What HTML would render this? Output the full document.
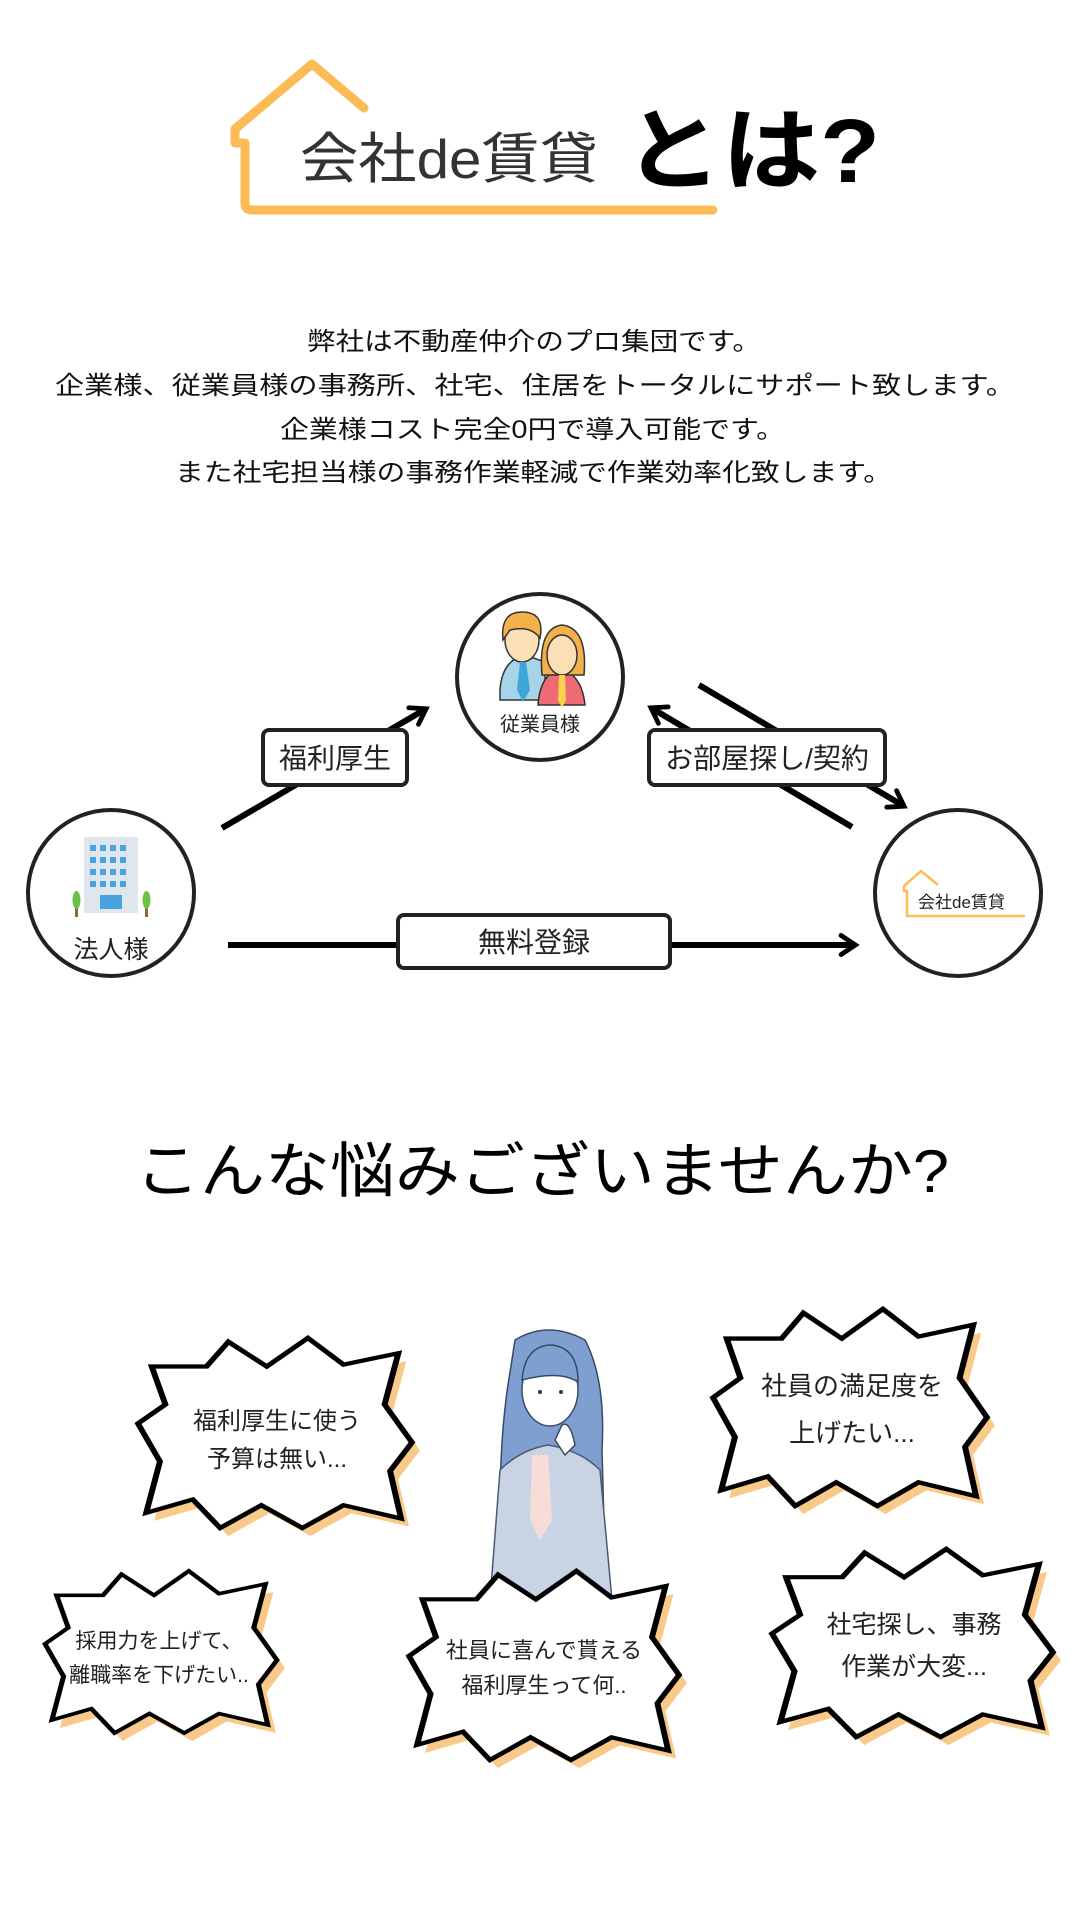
<!DOCTYPE html>
<html><head><meta charset="utf-8"><style>
html,body{margin:0;padding:0;background:#fff}
svg{display:block}
text{font-family:"Liberation Sans","Noto Sans CJK JP",sans-serif}
</style></head><body>
<svg width="1080" height="1920" viewBox="0 0 1080 1920" xmlns="http://www.w3.org/2000/svg">
<defs>
<marker id="ah" viewBox="0 0 10 10" refX="6" refY="5" markerWidth="4" markerHeight="4" orient="auto">
<path d="M1,1 L7,5 L1,9" fill="none" stroke="#000" stroke-width="2" stroke-linecap="round"/>
</marker>
<polygon id="burst" points="5,15 25,15 33,2 47,15 62,0 75,14 95,8 90,35 100,55 92,70 96,95 75,88 60,100 45,88 30,100 20,85 3,92 8,65 0,45 10,35"/>
</defs>

<path d="M364,108 L312,64 L235,129 L235,143 L245,143 L245,204 Q245,210 253,210 L713,210" fill="none" stroke="#fcbb55" stroke-width="9" stroke-linecap="round" stroke-linejoin="round"/>
<text x="300" y="178" font-size="55" fill="#333" textLength="298" lengthAdjust="spacingAndGlyphs">会社de賃貸</text>
<text x="624" y="182" font-size="90" font-weight="bold" fill="#000" textLength="256" lengthAdjust="spacingAndGlyphs">とは?</text>

<g font-size="25" fill="#111" lengthAdjust="spacingAndGlyphs">
<text x="307" y="350" textLength="454" lengthAdjust="spacingAndGlyphs">弊社は不動産仲介のプロ集団です。</text>
<text x="55" y="394" textLength="960" lengthAdjust="spacingAndGlyphs">企業様、従業員様の事務所、社宅、住居をトータルにサポート致します。</text>
<text x="280" y="438" textLength="505" lengthAdjust="spacingAndGlyphs">企業様コスト完全0円で導入可能です。</text>
<text x="175" y="481" textLength="717" lengthAdjust="spacingAndGlyphs">また社宅担当様の事務作業軽減で作業効率化致します。</text>
</g>

<g stroke="#000" stroke-width="6" fill="none">
<line x1="222" y1="828" x2="424" y2="710" marker-end="url(#ah)"/>
<line x1="852" y1="827" x2="653" y2="709" marker-end="url(#ah)"/>
<line x1="699" y1="685" x2="902" y2="805" marker-end="url(#ah)"/>
<line x1="228" y1="945" x2="853" y2="945" marker-end="url(#ah)"/>
</g>
<g stroke="#222" stroke-width="4" fill="#fff">
<circle cx="540" cy="677" r="83"/>
<circle cx="111" cy="893" r="83"/>
<circle cx="958" cy="893" r="83"/>
<rect x="263" y="730" width="144" height="55" rx="6"/>
<rect x="649" y="730" width="236" height="55" rx="6"/>
<rect x="398" y="915" width="272" height="53" rx="6"/>
</g>
<g font-size="28" fill="#222" text-anchor="middle">
<text x="335" y="768">福利厚生</text>
<text x="767" y="768">お部屋探し/契約</text>
<text x="534" y="952">無料登録</text>
</g>
<g>
<path d="M500,690 Q502,660 525,655 L545,662 L545,700 L500,700Z" fill="#a8d4ea" stroke="#333" stroke-width="1.5"/>
<ellipse cx="522" cy="640" rx="17" ry="22" fill="#fbe0b5" stroke="#333" stroke-width="1.5"/>
<path d="M503,640 Q500,612 522,612 Q545,612 540,638 Q530,625 510,630Z" fill="#f4b04a" stroke="#333" stroke-width="1.5"/>
<path d="M520,662 L526,662 L530,690 L523,702 L517,690Z" fill="#3ea7d8"/>
<path d="M538,705 Q540,675 560,668 Q582,675 585,705Z" fill="#ef6b74" stroke="#333" stroke-width="1.5"/>
<path d="M542,675 Q538,628 562,625 Q588,628 584,675Z" fill="#f4b04a" stroke="#333" stroke-width="1.5"/>
<ellipse cx="562" cy="655" rx="15" ry="20" fill="#fbe0b5" stroke="#333" stroke-width="1.5"/>
<path d="M559,675 L565,675 L566,700 L562,708 L558,700Z" fill="#f7d44a"/>
</g>
<text x="540" y="731" font-size="20" fill="#222" text-anchor="middle">従業員様</text>
<g>
<rect x="84" y="837" width="54" height="76" fill="#dfe6ee"/>
<g fill="#4aa3e0">
<rect x="90" y="845" width="6" height="6"/><rect x="100" y="845" width="6" height="6"/><rect x="110" y="845" width="6" height="6"/><rect x="120" y="845" width="6" height="6"/>
<rect x="90" y="857" width="6" height="6"/><rect x="100" y="857" width="6" height="6"/><rect x="110" y="857" width="6" height="6"/><rect x="120" y="857" width="6" height="6"/>
<rect x="90" y="869" width="6" height="6"/><rect x="100" y="869" width="6" height="6"/><rect x="110" y="869" width="6" height="6"/><rect x="120" y="869" width="6" height="6"/>
<rect x="90" y="881" width="6" height="6"/><rect x="100" y="881" width="6" height="6"/><rect x="110" y="881" width="6" height="6"/><rect x="120" y="881" width="6" height="6"/>
<rect x="100" y="895" width="22" height="14"/>
</g>
<rect x="75" y="905" width="3" height="12" fill="#8a6a40"/><ellipse cx="76.5" cy="900" rx="4" ry="9" fill="#6cc04a"/>
<rect x="145" y="905" width="3" height="12" fill="#8a6a40"/><ellipse cx="146.5" cy="900" rx="4" ry="9" fill="#6cc04a"/>
</g>
<text x="111" y="958" font-size="25" fill="#222" text-anchor="middle">法人様</text>
<path d="M938,885 L921,871 L904,886 L904,891 L907,891 L907,916 L1025,916" fill="none" stroke="#fcbb55" stroke-width="2.5"/>
<text x="918" y="908" font-size="17" fill="#222">会社de賃貸</text>

<text x="135" y="1192" font-size="60" fill="#000" textLength="814" lengthAdjust="spacingAndGlyphs">こんな悩みございませんか?</text>

<g>
<path d="M515,1340 Q548,1320 585,1340 Q606,1380 602,1450 L605,1560 L500,1560 Q498,1450 508,1385Z" fill="#7f9fd0" stroke="#3a4a66" stroke-width="1.5"/>
<path d="M500,1470 Q520,1450 548,1445 Q580,1450 600,1470 L612,1600 L490,1600Z" fill="#c8d4e3" stroke="#4a5a70" stroke-width="1.5"/>
<path d="M532,1455 L548,1455 L552,1520 L540,1540 L530,1520Z" fill="#f7dcd8"/>
<ellipse cx="550" cy="1390" rx="28" ry="36" fill="#fff" stroke="#3a4a66" stroke-width="1.5"/>
<path d="M522,1380 Q525,1345 552,1345 Q578,1348 578,1382 Q560,1370 522,1380Z" fill="#7f9fd0" stroke="#3a4a66" stroke-width="1.5"/>
<circle cx="540" cy="1392" r="2" fill="#333"/><circle cx="561" cy="1392" r="2" fill="#333"/>
<path d="M562,1425 Q570,1420 575,1445 L565,1455 L555,1440Z" fill="#fff" stroke="#3a4a66" stroke-width="1.5"/>
</g>

<g>
<use href="#burst" transform="translate(146,1346) scale(2.74,1.9)" fill="#f9c98a"/>
<use href="#burst" transform="translate(138,1338) scale(2.74,1.9)" fill="#fff" stroke="#000" stroke-width="2.2" vector-effect="non-scaling-stroke"/>
<use href="#burst" transform="translate(721,1317) scale(2.74,1.97)" fill="#f9c98a"/>
<use href="#burst" transform="translate(713,1309) scale(2.74,1.97)" fill="#fff" stroke="#000" stroke-width="2.2" vector-effect="non-scaling-stroke"/>
<use href="#burst" transform="translate(53,1579) scale(2.32,1.62)" fill="#f9c98a"/>
<use href="#burst" transform="translate(45,1571) scale(2.32,1.62)" fill="#fff" stroke="#000" stroke-width="2.2" vector-effect="non-scaling-stroke"/>
<use href="#burst" transform="translate(417,1579) scale(2.7,1.89)" fill="#f9c98a"/>
<use href="#burst" transform="translate(409,1571) scale(2.7,1.89)" fill="#fff" stroke="#000" stroke-width="2.2" vector-effect="non-scaling-stroke"/>
<use href="#burst" transform="translate(780,1557) scale(2.81,1.88)" fill="#f9c98a"/>
<use href="#burst" transform="translate(772,1549) scale(2.81,1.88)" fill="#fff" stroke="#000" stroke-width="2.2" vector-effect="non-scaling-stroke"/>
</g>
<g fill="#222" text-anchor="middle">
<text x="277" y="1429" font-size="24">福利厚生に使う</text>
<text x="277" y="1467" font-size="24">予算は無い...</text>
<text x="852" y="1395" font-size="26">社員の満足度を</text>
<text x="852" y="1442" font-size="26">上げたい...</text>
<text x="159" y="1648" font-size="21">採用力を上げて、</text>
<text x="159" y="1682" font-size="21">離職率を下げたい..</text>
<text x="544" y="1658" font-size="22">社員に喜んで貰える</text>
<text x="544" y="1693" font-size="22">福利厚生って何..</text>
<text x="914" y="1633" font-size="25">社宅探し、事務</text>
<text x="914" y="1675" font-size="25">作業が大変...</text>
</g>
</svg>
</body></html>
